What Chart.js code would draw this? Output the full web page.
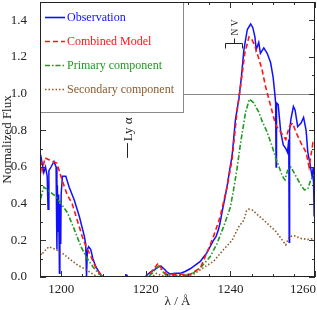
<!DOCTYPE html>
<html>
<head>
<meta charset="utf-8">
<script src="https://cdn.jsdelivr.net/npm/chart.js@4"></script>
<style>
  html, body { margin: 0; padding: 0; background: #fff; }
  #wrap { width: 317px; height: 310px; }
</style>
</head>
<body>
<div id="wrap"><canvas id="specChart" width="317" height="310"></canvas></div>
<script>
// Spectrum data (wavelength in A, normalized flux)
const obsWave = [1194.8, 1195.2, 1195.5, 1195.9, 1196.3, 1196.7, 1196.9, 1197.1, 1197.6, 1198.3, 1198.8, 1199.0, 1199.1, 1199.3, 1199.4, 1199.6, 1199.7, 1199.9, 1200.0, 1200.3, 1201.1, 1201.9, 1203.1, 1204.3, 1205.5, 1205.8, 1206.0, 1206.2, 1206.5, 1207.0, 1207.5, 1208.2, 1209.4, 1210.0, 1215.2, 1215.5, 1215.8, 1219.9, 1220.2, 1221.0, 1222.1, 1223.0, 1223.6, 1224.3, 1224.9, 1225.7, 1227.0, 1228.1, 1229.3, 1230.5, 1231.7, 1232.9, 1233.7, 1234.4, 1235.2, 1236.0, 1236.6, 1237.2, 1237.6, 1238.0, 1238.6, 1239.2, 1239.8, 1240.4, 1240.8, 1241.2, 1242.0, 1242.6, 1243.2, 1244.0, 1244.8, 1245.3, 1245.8, 1246.1, 1246.7, 1247.1, 1247.9, 1248.7, 1249.5, 1250.1, 1250.5, 1250.7, 1250.8, 1250.9, 1251.3, 1251.9, 1252.5, 1253.1, 1253.5, 1253.8, 1253.9, 1254.0, 1254.3, 1254.9, 1255.3, 1255.9, 1256.7, 1257.3, 1257.9, 1258.3, 1258.8, 1259.3, 1259.6, 1259.8, 1260.0];
const obsFlux = [0.69, 0.66, 0.62, 0.57, 0.60, 0.55, 0.37, 0.58, 0.60, 0.63, 0.60, 0.15, 0.50, 0.25, 0.45, 0.02, 0.40, 0.18, 0.45, 0.55, 0.55, 0.49, 0.42, 0.33, 0.22, 0.18, 0.0, 0.15, 0.165, 0.15, 0.10, 0.056, 0.01, 0.0, 0.0, 0.01, 0.0, 0.0, 0.01, 0.025, 0.04, 0.055, 0.06, 0.045, 0.03, 0.017, 0.02, 0.02, 0.03, 0.045, 0.065, 0.085, 0.11, 0.13, 0.165, 0.20, 0.22, 0.26, 0.30, 0.35, 0.42, 0.49, 0.58, 0.66, 0.76, 0.86, 0.97, 1.09, 1.24, 1.35, 1.38, 1.36, 1.31, 1.24, 1.28, 1.22, 1.25, 1.22, 1.17, 1.09, 1.0, 0.95, 0.60, 0.95, 0.94, 0.79, 0.72, 0.70, 0.68, 0.75, 0.19, 0.80, 0.86, 0.93, 0.91, 0.82, 0.84, 0.87, 0.80, 0.68, 0.62, 0.55, 0.60, 0.33, 0.55];

const combWave = [1194.8, 1195.5, 1196.2, 1197.1, 1199.0, 1200.2, 1201.4, 1202.6, 1203.8, 1205.0, 1205.9, 1207.1, 1208.3, 1209.5, 1210.2, 1220.0, 1221.0, 1222.1, 1222.9, 1223.6, 1224.9, 1230.5, 1232.9, 1234.4, 1236.0, 1237.6, 1239.2, 1240.4, 1241.6, 1242.4, 1243.4, 1244.4, 1245.0, 1245.8, 1246.6, 1247.5, 1248.3, 1249.1, 1249.9, 1250.7, 1251.9, 1253.1, 1253.9, 1254.7, 1255.5, 1256.7, 1257.9, 1258.6, 1259.5, 1260.2];
const combFlux = [0.68, 0.58, 0.65, 0.64, 0.62, 0.53, 0.45, 0.40, 0.31, 0.22, 0.165, 0.11, 0.045, 0.01, 0.0, 0.0, 0.02, 0.05, 0.075, 0.05, 0.015, 0.015, 0.05, 0.13, 0.22, 0.33, 0.49, 0.64, 0.91, 1.04, 1.22, 1.31, 1.30, 1.26, 1.20, 1.13, 1.04, 0.97, 0.90, 0.83, 0.79, 0.75, 0.82, 0.84, 0.79, 0.73, 0.68, 0.60, 0.73, 0.71];

const primWave = [1194.8, 1195.3, 1195.9, 1197.1, 1198.7, 1200.3, 1201.5, 1203.1, 1204.7, 1205.9, 1207.5, 1209.0, 1210.0, 1220.5, 1221.5, 1222.5, 1223.1, 1223.8, 1224.8, 1230.5, 1232.9, 1235.2, 1236.8, 1238.4, 1240.0, 1240.7, 1241.5, 1242.4, 1243.6, 1244.5, 1245.5, 1246.7, 1247.5, 1248.7, 1249.9, 1250.7, 1251.5, 1252.3, 1252.9, 1253.5, 1254.3, 1255.5, 1256.7, 1257.5, 1258.3, 1259.0, 1260.2];
const primFlux = [0.51, 0.44, 0.49, 0.47, 0.44, 0.39, 0.35, 0.26, 0.165, 0.11, 0.056, 0.015, 0.0, 0.0, 0.02, 0.05, 0.06, 0.035, 0.01, 0.01, 0.05, 0.11, 0.18, 0.275, 0.38, 0.47, 0.58, 0.73, 0.90, 0.97, 0.95, 0.90, 0.85, 0.79, 0.71, 0.65, 0.60, 0.55, 0.53, 0.58, 0.60, 0.55, 0.50, 0.475, 0.48, 0.53, 0.57];

const secWave = [1194.8, 1195.3, 1196.0, 1197.1, 1198.7, 1200.3, 1201.9, 1203.9, 1205.9, 1207.9, 1209.0, 1221.5, 1222.5, 1223.5, 1224.5, 1230.5, 1231.3, 1233.6, 1236.0, 1238.4, 1240.4, 1242.0, 1243.2, 1243.8, 1244.3, 1245.2, 1246.4, 1247.9, 1249.5, 1250.7, 1252.3, 1253.1, 1253.9, 1255.1, 1256.7, 1258.3, 1260.2];
const secFlux = [0.165, 0.12, 0.14, 0.165, 0.15, 0.13, 0.10, 0.065, 0.04, 0.01, 0.0, 0.0, 0.02, 0.01, 0.005, 0.01, 0.015, 0.05, 0.085, 0.15, 0.20, 0.275, 0.31, 0.36, 0.37, 0.365, 0.34, 0.31, 0.275, 0.25, 0.20, 0.175, 0.22, 0.225, 0.21, 0.205, 0.21];

const xTicks = [1200, 1220, 1240, 1260];
const yTicks = [0.0, 0.2, 0.4, 0.6, 0.8, 1.0, 1.2, 1.4];

const seriesNames = ['Observation', 'Combined Model', 'Primary component', 'Secondary component'];
const seriesColors = ['#1010ff', '#ff1515', '#1e9a1e', '#8c5a2a'];
const seriesDash = [[], [5, 3], [5, 2, 1.5, 2], [1.5, 2]];

const serif = "'Liberation Serif', 'DejaVu Serif', serif";

function pairs(w, f) {
  return w.map((x, i) => ({ x: x, y: f[i] }));
}

// frame, inward ticks, x labels, annotations and legend box
const framePlugin = {
  id: 'framePlugin',
  beforeDatasetsDraw(chart) {
    const ctx = chart.ctx, a = chart.chartArea;
    const y1 = chart.scales.y.getPixelForValue(1.0);
    ctx.save();
    ctx.strokeStyle = '#8a8a8a';
    ctx.lineWidth = 1;
    ctx.beginPath();
    ctx.moveTo(a.left, Math.round(y1) + 0.5);
    ctx.lineTo(a.right, Math.round(y1) + 0.5);
    ctx.stroke();
    ctx.restore();
  },
  afterDatasetsDraw(chart) {
    const ctx = chart.ctx, a = chart.chartArea;
    const xs = chart.scales.x, ys = chart.scales.y;
    ctx.save();

    // ticks
    ctx.strokeStyle = '#333';
    ctx.lineWidth = 1;
    ctx.beginPath();
    for (let v = 1195; v <= 1260; v += 5) {
      const px = Math.round(xs.getPixelForValue(v)) + 0.5;
      const len = v % 20 === 0 ? 6 : 3;
      ctx.moveTo(px, a.bottom); ctx.lineTo(px, a.bottom - len);
      ctx.moveTo(px, a.top); ctx.lineTo(px, a.top + len);
    }
    for (let k = 0; k <= 15; k++) {
      const py = Math.round(ys.getPixelForValue(k / 10)) + 0.5;
      const len = k % 2 === 0 ? 6 : 3;
      ctx.moveTo(a.left, py); ctx.lineTo(a.left + len, py);
      ctx.moveTo(a.right, py); ctx.lineTo(a.right - len, py);
    }
    ctx.stroke();

    // x tick labels (last one kept inside the canvas)
    ctx.fillStyle = '#222';
    ctx.font = '13px ' + serif;
    ctx.textBaseline = 'top';
    ctx.textAlign = 'center';
    xTicks.forEach(v => {
      const label = String(v);
      const w = ctx.measureText(label).width;
      let px = xs.getPixelForValue(v);
      if (px + w / 2 > chart.width - 1) px = chart.width - 1 - w / 2;
      ctx.fillText(label, px, a.bottom + 6);
    });

    // Ly alpha marker
    const lx = Math.round(xs.getPixelForValue(1215.67)) + 0.5;
    ctx.strokeStyle = '#222';
    ctx.beginPath();
    ctx.moveTo(lx, ys.getPixelForValue(0.73));
    ctx.lineTo(lx, ys.getPixelForValue(0.65));
    ctx.stroke();
    ctx.save();
    ctx.translate(lx + 4, ys.getPixelForValue(0.74));
    ctx.rotate(-Math.PI / 2);
    ctx.textAlign = 'left';
    ctx.textBaseline = 'alphabetic';
    ctx.fillText('Ly α', 0, 0);
    ctx.restore();

    // N V doublet bracket
    const n1 = Math.round(xs.getPixelForValue(1238.8)) + 0.5;
    const n2 = Math.round(xs.getPixelForValue(1242.8)) + 0.5;
    const nm = Math.round((n1 + n2) / 2) + 0.5;
    const by = 43.5;
    ctx.beginPath();
    ctx.moveTo(n1, by + 5); ctx.lineTo(n1, by); ctx.lineTo(n2, by); ctx.lineTo(n2, by + 5);
    ctx.moveTo(nm, by); ctx.lineTo(nm, by - 5);
    ctx.stroke();
    ctx.save();
    ctx.translate(nm + 3.5, by - 8);
    ctx.rotate(-Math.PI / 2);
    ctx.font = '9.5px ' + serif;
    ctx.textAlign = 'left';
    ctx.textBaseline = 'alphabetic';
    ctx.fillText('N V', 0, 0);
    ctx.restore();

    // legend box
    const lw = 143, lh = 110;
    ctx.fillStyle = '#fff';
    ctx.fillRect(a.left, a.top, lw, lh);
    ctx.strokeStyle = '#8a8a8a';
    ctx.strokeRect(a.left + 0.5, a.top + 0.5, lw, lh);
    ctx.font = '12px ' + serif;
    ctx.textBaseline = 'middle';
    ctx.textAlign = 'left';
    seriesNames.forEach((name, i) => {
      const yy = a.top + 15.5 + i * 24;
      ctx.strokeStyle = seriesColors[i];
      ctx.lineWidth = 1.6;
      ctx.setLineDash(seriesDash[i]);
      ctx.beginPath();
      ctx.moveTo(a.left + 5, yy);
      ctx.lineTo(a.left + 25, yy);
      ctx.stroke();
      ctx.setLineDash([]);
      ctx.fillStyle = seriesColors[i];
      ctx.fillText(name, a.left + 27, yy);
    });

    // frame
    ctx.strokeStyle = '#222';
    ctx.lineWidth = 1;
    ctx.strokeRect(a.left + 0.5, a.top + 0.5, a.right - a.left - 1, a.bottom - a.top - 1);
    ctx.restore();
  }
};

const fluxes = [obsFlux, combFlux, primFlux, secFlux];
const waves = [obsWave, combWave, primWave, secWave];
const datasets = seriesNames.map((name, i) => ({
  label: name,
  data: pairs(waves[i], fluxes[i]),
  borderColor: seriesColors[i],
  borderWidth: i === 0 ? 1.5 : 1.6,
  borderDash: seriesDash[i],
  pointRadius: 0,
  tension: 0,
  fill: false,
  order: i === 0 ? 10 : i
}));

const ctx = document.getElementById('specChart').getContext('2d');
const specChart = new Chart(ctx, {
  type: 'line',
  data: { datasets: datasets },
  options: {
    responsive: false,
    animation: false,
    layout: { padding: { top: 2, right: 2, left: 0, bottom: 0 } },
    plugins: {
      legend: { display: false },
      tooltip: { enabled: false }
    },
    scales: {
      x: {
        type: 'linear',
        min: 1195,
        max: 1260,
        grid: { display: false },
        border: { display: false },
        afterBuildTicks: s => { s.ticks = xTicks.map(v => ({ value: v })); },
        afterFit: s => {
          s.height = 33;
          s.paddingLeft = 0;
          s.paddingRight = 0;
        },
        ticks: { display: false },
        title: {
          display: true,
          text: 'λ / Å',
          color: '#222',
          font: { family: serif, size: 13 },
          padding: { top: 0, bottom: 1 }
        }
      },
      y: {
        min: 0,
        max: 1.5,
        grid: { display: false },
        border: { display: false },
        afterBuildTicks: s => { s.ticks = yTicks.map(v => ({ value: v })); },
        afterFit: s => {
          s.width = 40;
          s.paddingTop = 0;
          s.paddingBottom = 0;
        },
        ticks: {
          padding: 5,
          color: '#222',
          font: { family: serif, size: 13 },
          callback: v => v.toFixed(1)
        },
        title: {
          display: true,
          text: 'Normalized Flux',
          color: '#222',
          font: { family: serif, size: 13 },
          padding: { top: 0, bottom: 0 }
        }
      }
    }
  },
  plugins: [framePlugin]
});
</script>
</body>
</html>
